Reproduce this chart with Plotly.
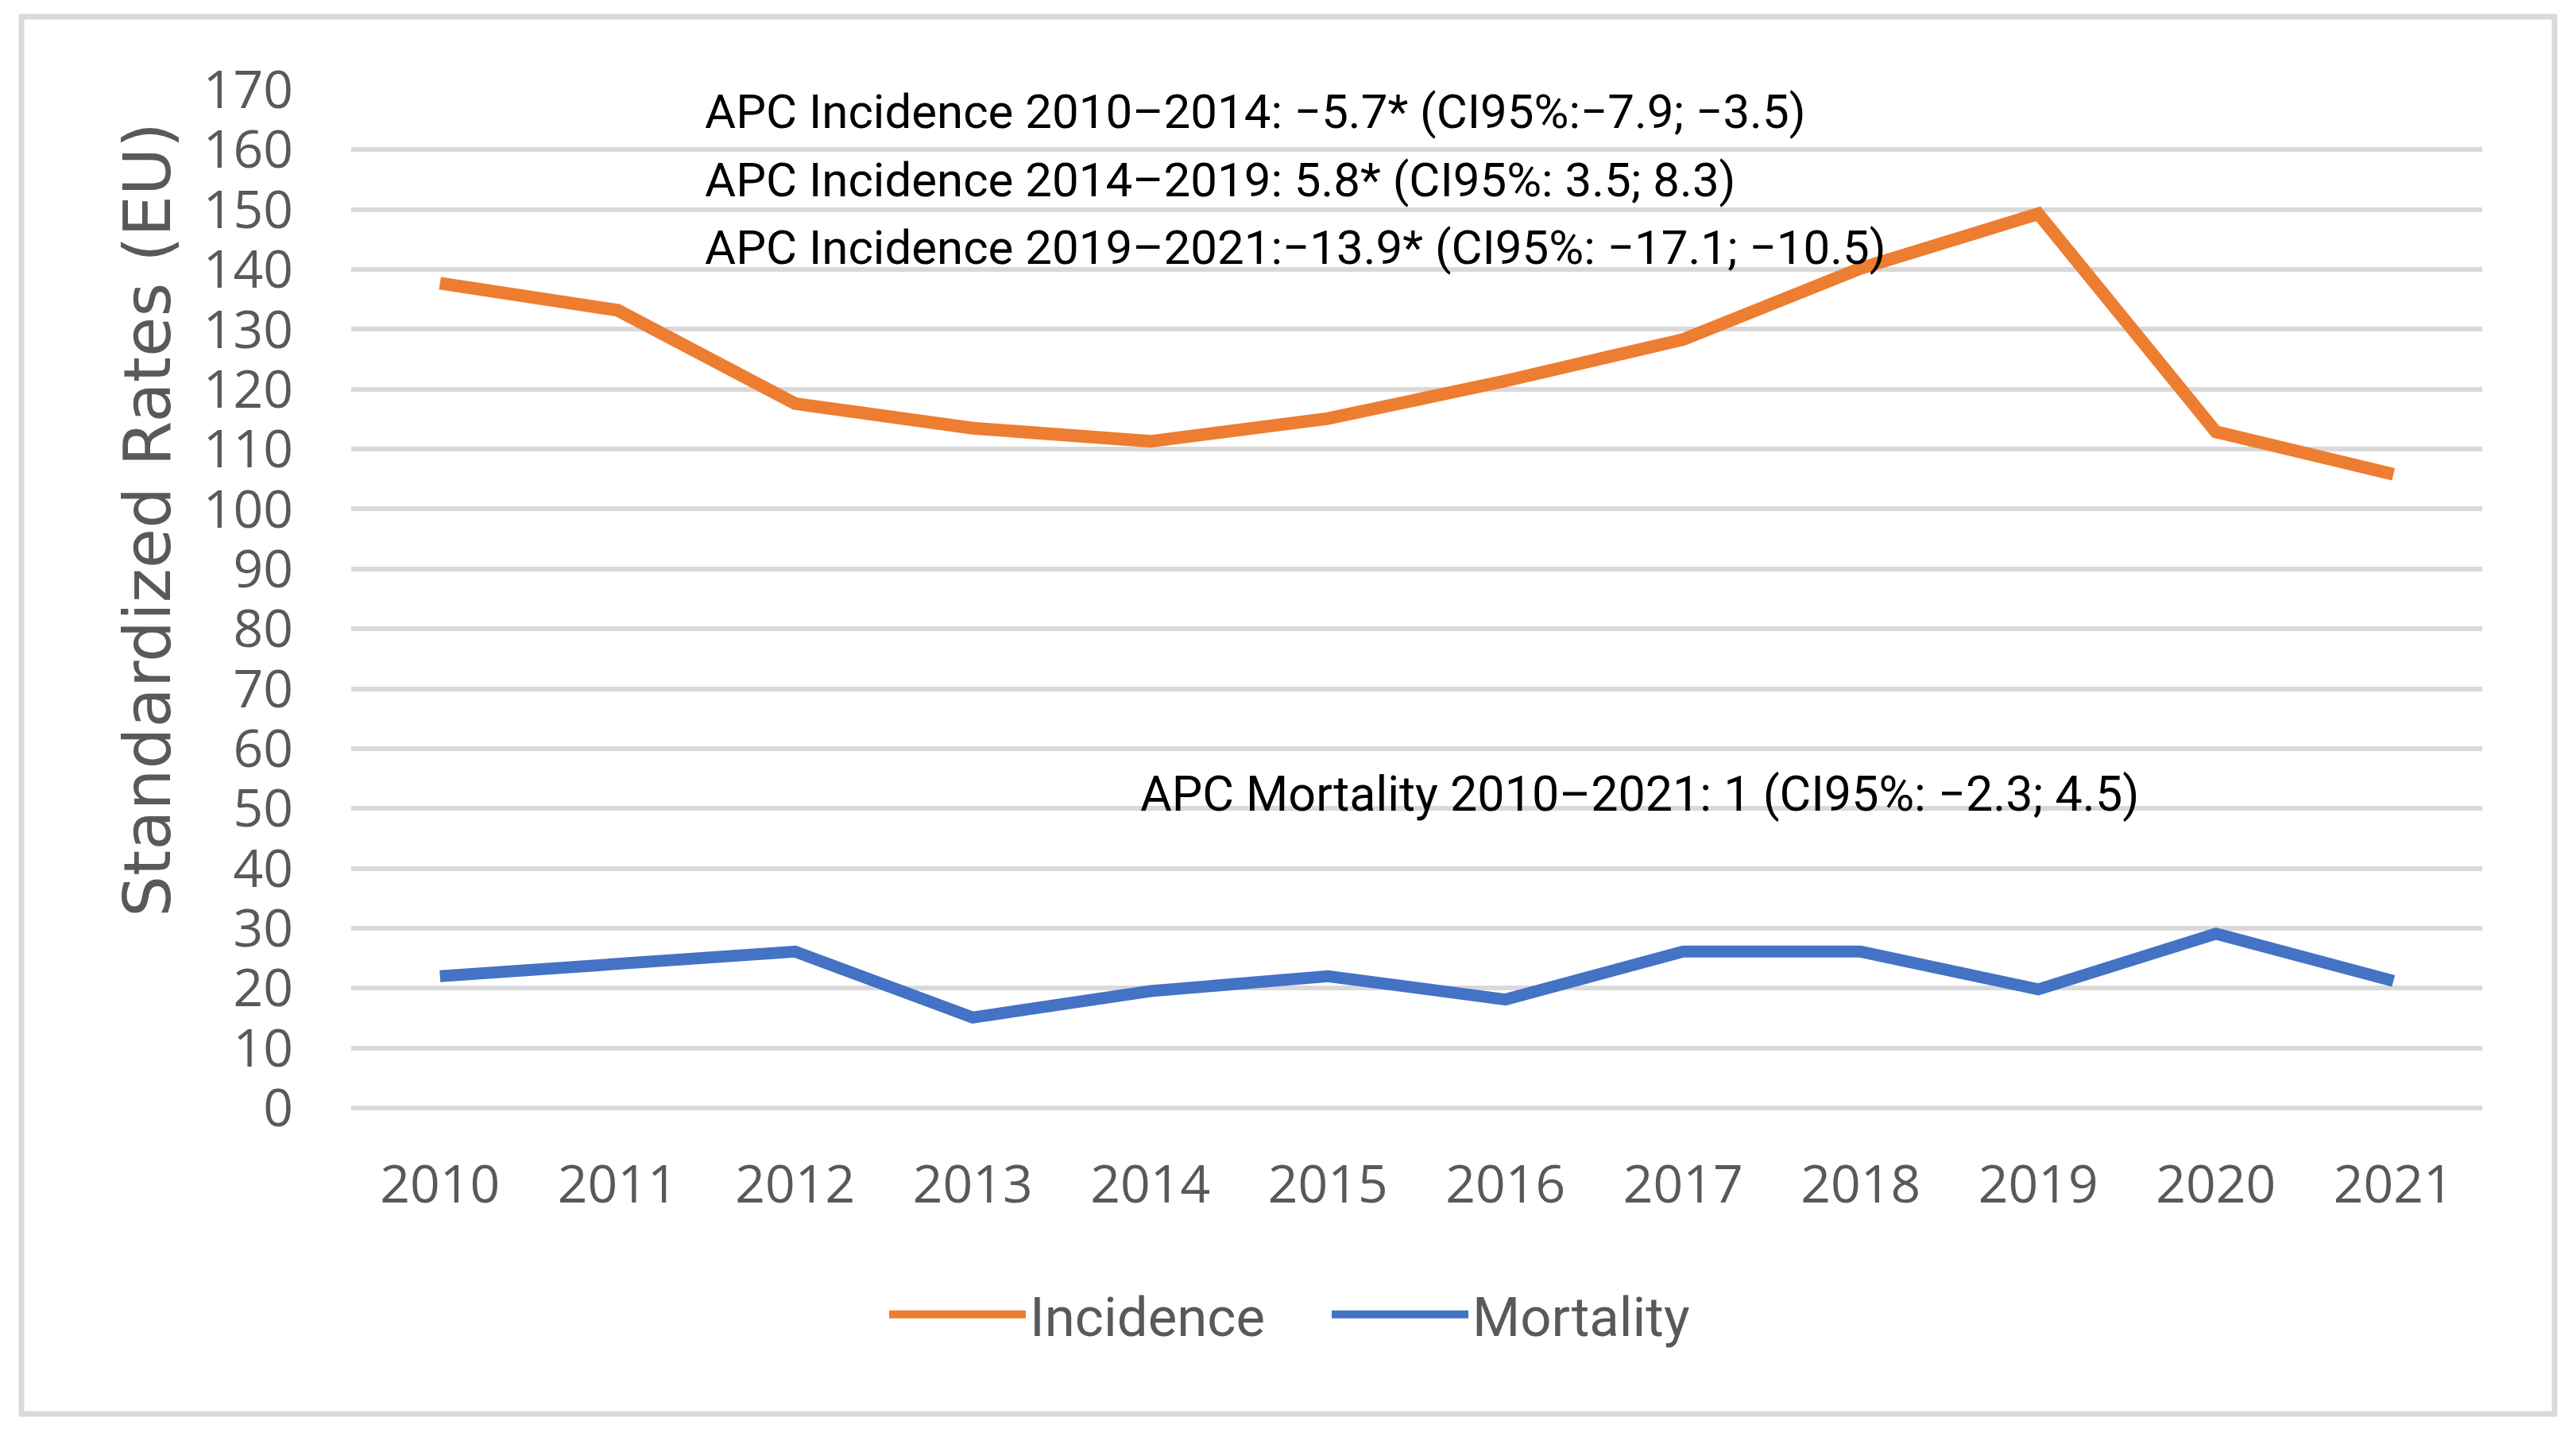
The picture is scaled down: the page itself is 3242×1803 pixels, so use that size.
import plotly.graph_objects as go

years = ["2010", "2011", "2012", "2013", "2014", "2015", "2016", "2017", "2018", "2019", "2020", "2021"]
incidence = [137.7, 133.2, 117.6, 113.5, 111.3, 115.1, 121.4, 128.3, 140.2, 149.3, 112.9, 105.8]
mortality = [22.0, 24.2, 26.1, 15.1, 19.5, 22.0, 18.1, 26.1, 26.1, 19.8, 29.1, 21.2]
y_ticks = list(range(0, 171, 10))

apc_incidence = [
    "APC Incidence 2010–2014: −5.7* (CI95%:−7.9; −3.5)",
    "APC Incidence 2014–2019: 5.8* (CI95%: 3.5; 8.3)",
    "APC Incidence 2019–2021:−13.9* (CI95%: −17.1; −10.5)",
]
apc_incidence_y = [166.4, 154.9, 143.6]
apc_mortality = "APC Mortality 2010–2021: 1 (CI95%: −2.3; 4.5)"
apc_mortality_y = 52.4
y_title = "Standardized Rates (EU)"

W, H = 3242, 1803
L, R, T, B = 442, 118, 113, 409
pw, ph = W - L - R, H - T - B


def px(xp):
    return (xp - L) / pw


def py(yp):
    return (H - B - yp) / ph


narrow = "Roboto, sans-serif"
gray = "#595959"

fig = go.Figure()
fig.add_trace(go.Scatter(x=years, y=incidence, mode="lines", name="Incidence",
                         line=dict(color="#ED7D31", width=16)))
fig.add_trace(go.Scatter(x=years, y=mortality, mode="lines", name="Mortality",
                         line=dict(color="#4472C4", width=15)))

for txt, yv in zip(apc_incidence, apc_incidence_y):
    fig.add_annotation(x=px(885), xref="paper", y=yv, yref="y", text=txt,
                       showarrow=False, xanchor="left", yanchor="middle",
                       font=dict(family=narrow, size=60, color="black"))
fig.add_annotation(x=px(1433), xref="paper", y=apc_mortality_y, yref="y", text=apc_mortality,
                   showarrow=False, xanchor="left", yanchor="middle",
                   font=dict(family=narrow, size=61, color="black"))

# y axis title (placed where the reference shows it)
fig.add_annotation(x=px(185), xref="paper", y=py(654), yref="paper", text=y_title,
                   textangle=-90, showarrow=False, xanchor="center", yanchor="middle",
                   font=dict(family="DejaVu Sans, sans-serif", size=82, color=gray))

# outer chart border
fig.add_shape(type="rect", xref="paper", yref="paper",
              x0=px(27), x1=px(3215), y0=py(1779), y1=py(21),
              line=dict(color="#D9D9D9", width=7), fillcolor="rgba(0,0,0,0)", layer="below")

fig.update_layout(
    width=W, height=H,
    margin=dict(l=L, r=R, t=T, b=B),
    paper_bgcolor="white", plot_bgcolor="white",
    showlegend=True,
    legend=dict(orientation="h", x=px(1114), xanchor="left",
                y=py(1654), yanchor="middle",
                font=dict(family=narrow, size=69, color=gray),
                itemwidth=172, tracegroupgap=0, entrywidth=370),
    xaxis=dict(type="category", range=[-0.5, 11.5], showgrid=False, showline=False, zeroline=False,
               ticks="", ticklabelstandoff=52,
               tickfont=dict(family="Open Sans, sans-serif", size=66, color=gray)),
    yaxis=dict(range=[0, 170], tickvals=y_ticks, showgrid=True, gridcolor="#D9D9D9", gridwidth=6,
               zeroline=True, zerolinecolor="#D9D9D9", zerolinewidth=6, showline=False,
               ticks="", ticklabelstandoff=72,
               tickfont=dict(family="Open Sans, sans-serif", size=66, color=gray)),
)

fig.write_html("out.html", config={"displayModeBar": False},
               post_script="document.body.style.margin='0';")
